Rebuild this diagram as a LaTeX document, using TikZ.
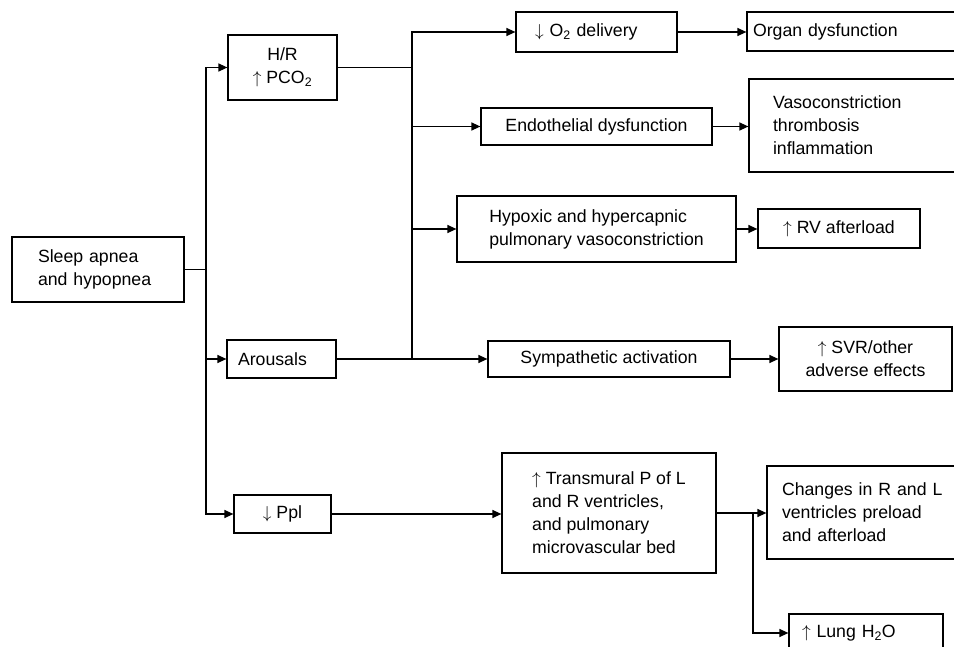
\documentclass[tikz,border=0pt]{standalone}
\usepackage{fontspec}
\setmainfont{Liberation Sans}
\usetikzlibrary{arrows.meta}

\begin{document}
\begin{tikzpicture}[x=1pt, y=-1pt,
	every node/.style={font=\fontsize{17.7}{23}\selectfont},
	box/.style={draw, line width=1.2pt, inner sep=0pt, align=center},
	lbox/.style={box, align=left, inner xsep=#1},
	link/.style={line width=1.2pt},
	arr/.style={link, -{Triangle[length=9pt, width=8pt]}}]

	\useasboundingbox (0,0) rectangle (954,647);
	\clip (0,0) rectangle (954,647);

	\node [lbox=26pt, text width=120pt, minimum height=65pt] (sleep) at (98,269.5) {Sleep apnea\\and hypopnea};

	\node [box, minimum width=109pt, minimum height=65pt] (hr) at (282.5,67.5) {H/R\\$\uparrow$ PCO\textsubscript{2}};
	\node [lbox=11pt, text width=87pt, minimum height=38pt] (arousal) at (281.5,359) {Arousals};
	\node [box, minimum width=97pt, minimum height=38pt] (ppl) at (282.5,514) {$\downarrow$ Ppl};

	\node [lbox=19pt, text width=123pt, minimum height=40pt] (oxy) at (596.5,32) {$\downarrow$ O\textsubscript{2} delivery};
	\node [box, minimum width=231pt, minimum height=37pt] (endo) at (596.5,126.5) {Endothelial dysfunction};
	\node [box, align=left, minimum width=279pt, minimum height=66pt] (hypox) at (596.5,229) {Hypoxic and hypercapnic\\pulmonary vasoconstriction};
	\node [box, minimum width=242pt, minimum height=36pt] (symp) at (609,359) {Sympathetic activation};
	\node [box, align=left, minimum width=214pt, minimum height=120pt] (transm) at (609,513) {$\uparrow$ Transmural P of L\\and R ventricles,\\and pulmonary\\microvascular bed};

	\node [lbox=6pt, text width=226pt, minimum height=39pt] (organ) at (866,31.5) {Organ dysfunction};
	\node [lbox=24pt, text width=182pt, minimum height=93pt] (vaso) at (864,125.5) {Vasoconstriction\\thrombosis\\inflammation};
	\node [box, minimum width=162pt, minimum height=39pt] (rvload) at (839,228.5) {$\uparrow$ RV afterload};
	\node [box, minimum width=173pt, minimum height=64pt] (svr) at (865.5,359) {$\uparrow$ SVR/other\\adverse effects};
	\node [lbox=15pt, text width=185pt, minimum height=93pt] (preload) at (874.5,512.5) {Changes in R and L\\ventricles preload\\and afterload};
	\node [lbox=13pt, text width=128pt, minimum height=38pt] (lungwater) at (866,633) {$\uparrow$ Lung H\textsubscript{2}O};

	\coordinate (split1) at (206,269.5);
	\coordinate (split2) at (412,67.5);
	\coordinate (split3) at (753,513);

	\draw
		[link] (sleep.east) -- (split1);
	\draw
		[arr] (split1) |- (hr.west);
	\draw
		[arr] (split1) |- (arousal.west);
	\draw
		[arr] (split1) |- (ppl.west);

	\draw
		[link] (hr.east) -- (split2);
	\draw
		[arr] (split2) |- (oxy.west);
	\draw
		[arr] (split2) |- (endo.west);
	\draw
		[arr] (split2) |- (hypox.west);
	\draw
		[link] (split2) -- (split2 |- arousal.east);
	\draw
		[arr] (arousal.east) -- (symp.west);

	\draw
		[arr] (oxy.east) -- (oxy.east -| organ.west);
	\draw
		[arr] (endo.east) -- (endo.east -| vaso.west);
	\draw
		[arr] (hypox.east) -- (hypox.east -| rvload.west);
	\draw
		[arr] (symp.east) -- (symp.east -| svr.west);

	\draw
		[arr] (ppl.east) -- (ppl.east -| transm.west);
	\draw
		[arr] (transm.east) -- (transm.east -| preload.west);
	\draw
		[arr] (split3) |- (lungwater.west);
\end{tikzpicture}
\end{document}
